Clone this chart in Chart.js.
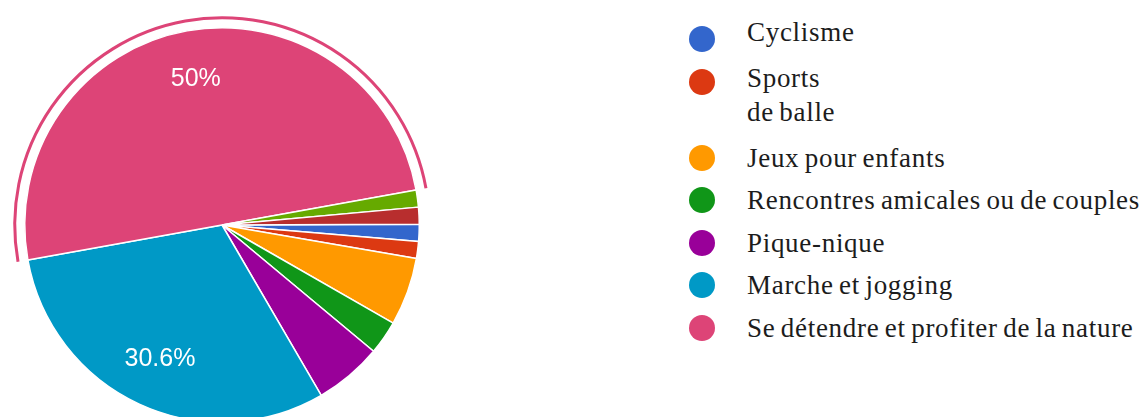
<!DOCTYPE html>
<html>
<head>
<meta charset="utf-8">
<script src="https://cdn.jsdelivr.net/npm/chart.js@4.4.1/dist/chart.umd.min.js"></script>
<style>
    html, body { margin: 0; padding: 0; background: #fff; overflow: hidden; }
    body { width: 1142px; height: 417px; position: relative; }
    #pieWrap { position: absolute; left: -18px; top: -15px; width: 480px; height: 480px; }
    #legend { position: absolute; left: 689px; top: 25px; font-family: 'Liberation Serif', serif; font-size: 27px; color: #1c1c1c; letter-spacing: 0.7px; word-spacing: -2px; }
    .row { display: flex; align-items: flex-start; height: 42.5px; }
    .row.multi { height: 76px; }
    .dot { width: 26px; height: 26px; border-radius: 50%; flex: none; margin-top: 1px; }
    .txt { margin-left: 32px; line-height: 34px; white-space: pre-line; margin-top: -3px; }
    .row:nth-child(1) .txt { margin-top: -10px; }
    .row:nth-child(2) .txt { margin-top: -7px; }
</style>
</head>
<body>
<div id="pieWrap"><canvas id="pieChart" width="480" height="480"></canvas></div>
<div id="legend"></div>
<script>
// Réponses (nombre de personnes) par activité
const labels = ['Cyclisme', 'Sports\nde balle', 'Jeux pour enfants', 'Rencontres amicales ou de couples',
    'Pique-nique', 'Marche et jogging', 'Se détendre et profiter de la nature', 'Autre', 'Autre réponse'];
const counts = [1, 1, 4, 2, 4, 22, 36, 1, 1];
const colors = ['#3366cc', '#dc3912', '#ff9900', '#109618', '#990099', '#0099c6', '#dd4477', '#66aa00', '#b82e2e'];
const legendCount = 7;       // the last two answers are not listed
const highlighted = 6;       // slice outlined with a ring
const labelMinShare = 0.2;   // only big slices get a percentage

const total = counts.reduce((a, b) => a + b, 0);

// percentages written inside the large slices
const sliceLabels = {
    id: 'sliceLabels',
    afterDatasetsDraw(chart) {
        const { ctx } = chart;
        const meta = chart.getDatasetMeta(0);
        ctx.save();
        ctx.font = "25px 'Liberation Sans', Arial, sans-serif";
        ctx.fillStyle = '#ffffff';
        ctx.textAlign = 'center';
        ctx.textBaseline = 'middle';
        meta.data.forEach((arc, i) => {
            const share = counts[i] / total;
            if (share < labelMinShare) return;
            const p = arc.getProps(['x', 'y', 'startAngle', 'endAngle', 'outerRadius'], true);
            const mid = (p.startAngle + p.endAngle) / 2;
            const r = p.outerRadius * 0.75;
            const pct = Math.round(share * 1000) / 10;
            ctx.fillText(pct + '%', p.x + Math.cos(mid) * r, p.y + Math.sin(mid) * r);
        });
        ctx.restore();
    }
};

// thin arc drawn just outside the selected slice
const sliceRing = {
    id: 'sliceRing',
    afterDatasetsDraw(chart) {
        const { ctx } = chart;
        const arc = chart.getDatasetMeta(0).data[highlighted];
        if (!arc) return;
        const p = arc.getProps(['x', 'y', 'startAngle', 'endAngle', 'outerRadius'], true);
        ctx.save();
        ctx.strokeStyle = colors[highlighted];
        ctx.lineWidth = 3;
        ctx.beginPath();
        ctx.arc(p.x, p.y, p.outerRadius + 10, p.startAngle, p.endAngle);
        ctx.stroke();
        ctx.restore();
    }
};

new Chart(document.getElementById('pieChart'), {
    type: 'pie',
    data: {
        labels: labels,
        datasets: [{
            data: counts,
            backgroundColor: colors,
            borderColor: '#ffffff',
            borderWidth: 1.5
        }]
    },
    options: {
        responsive: false,
        animation: false,
        events: [],
        rotation: 89.8,
        layout: { padding: 42 },
        plugins: {
            legend: { display: false },
            tooltip: { enabled: false }
        }
    },
    plugins: [sliceRing, sliceLabels]
});

// legend listing the main answers
const legendEl = document.getElementById('legend');
labels.slice(0, legendCount).forEach((text, i) => {
    const row = document.createElement('div');
    row.className = 'row' + (text.includes('\n') ? ' multi' : '');
    const dot = document.createElement('span');
    dot.className = 'dot';
    dot.style.background = colors[i];
    const txt = document.createElement('span');
    txt.className = 'txt';
    txt.textContent = text;
    row.appendChild(dot);
    row.appendChild(txt);
    legendEl.appendChild(row);
});
</script>
</body>
</html>
